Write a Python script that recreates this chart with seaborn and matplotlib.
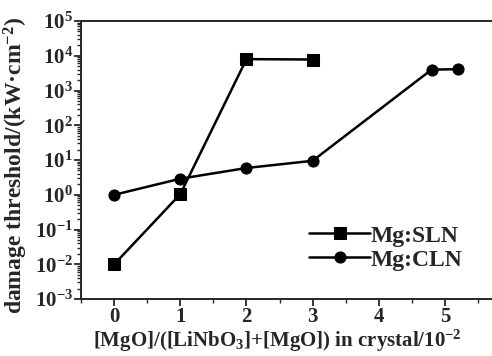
import numpy as np
import pandas as pd
import matplotlib
matplotlib.use("Agg")
import matplotlib.pyplot as plt
import matplotlib.ticker as mticker
import seaborn as sns

# data
sln_x = [0, 1, 2, 3]
sln_y = [0.01, 1.05, 8000, 7800]
cln_x = [0, 1, 2, 3, 4.8, 5.2]
cln_y = [1.0, 2.9, 5.9, 9.5, 4000, 4100]

sns.set_style("ticks")
plt.rcParams['font.family'] = ['Liberation Serif', 'DejaVu Serif']
plt.rcParams['font.weight'] = 'bold'
plt.rcParams['axes.labelweight'] = 'bold'
plt.rcParams['mathtext.default'] = 'regular'

df = pd.concat([
    pd.DataFrame({'x': sln_x, 'y': sln_y, 'crystal': 'Mg:SLN'}),
    pd.DataFrame({'x': cln_x, 'y': cln_y, 'crystal': 'Mg:CLN'}),
])

fig = plt.figure(figsize=(4.92, 3.56), dpi=100)
ax = fig.add_axes([0.165, 0.16, 0.84, 0.781])
sns.lineplot(data=df, x='x', y='y', style='crystal', markers={'Mg:SLN': 's', 'Mg:CLN': 'o'},
             dashes=False, color='black', lw=1.8, ms=8, mec='black', mfc='black',
             ax=ax, legend=True)
ax.set_yscale('log')
ax.set_xlim(-0.5, 5.75)
ax.set_ylim(1e-3, 1e5)
ax.set_xticks([0, 1, 2, 3, 4, 5])
ax.xaxis.set_minor_locator(mticker.MultipleLocator(0.5))
ax.yaxis.set_major_locator(mticker.LogLocator(base=10, numticks=20))
ax.yaxis.set_minor_locator(mticker.LogLocator(base=10, subs=np.arange(2, 10), numticks=20))
ax.yaxis.set_minor_formatter(mticker.NullFormatter())
ax.tick_params(which='major', direction='out', length=5, width=1.3, labelsize=15, pad=1)
ax.tick_params(which='minor', direction='out', length=3, width=1)
ax.spines['right'].set_visible(False)
for s in ax.spines.values():
    s.set_linewidth(1.4)
ax.set_xlabel('[MgO]/([LiNbO$_3$]+[MgO]) in crystal/10$^{-2}$', fontsize=15)
ax.set_ylabel('damage threshold/(kW·cm$^{-2}$)', fontsize=17)
ax.xaxis.set_label_coords(0.475, -0.105)
ax.yaxis.set_label_coords(-0.125, 0.48)
leg = ax.legend(loc='lower right', bbox_to_anchor=(0.95, 0.06), frameon=False, fontsize=17,
                handlelength=2.6, handletextpad=0.0, labelspacing=0.1, borderpad=0)
fig.savefig('out.png', dpi=100)
